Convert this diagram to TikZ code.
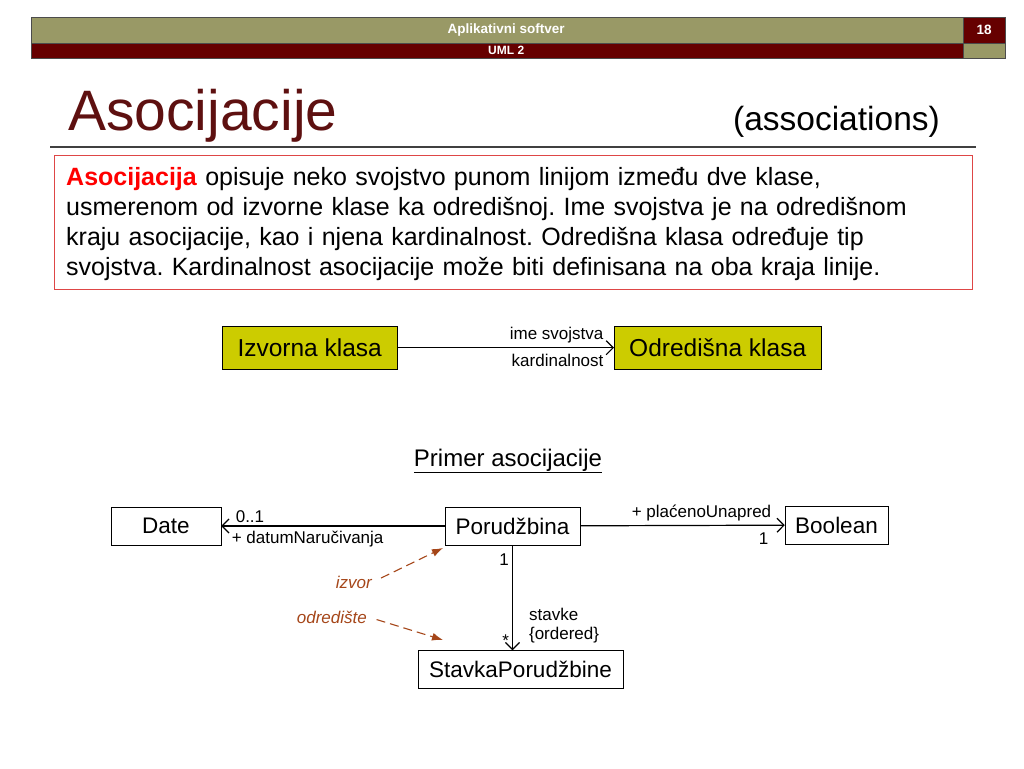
\documentclass[tikz,border=0pt]{standalone}
\usepackage{fontspec}
\setmainfont{Liberation Sans}
\usetikzlibrary{arrows.meta, positioning}
\definecolor{olivebar}{RGB}{153,153,102}
\definecolor{darkred}{RGB}{102,0,0}
\definecolor{titlered}{RGB}{94,16,16}
\definecolor{klasafill}{RGB}{204,204,0}
\definecolor{smedja}{RGB}{165,70,25}
\definecolor{okvir}{RGB}{222,70,70}

\begin{document}
\begin{tikzpicture}[x=1pt, y=-1pt,
  bar/.style={draw=black!70, inner sep=0pt, text=white,
              font=\fontsize{13.5}{15}\selectfont\bfseries},
  klasa/.style={draw, fill=klasafill, minimum height=43pt, font=\fontsize{24.5}{28}\selectfont},
  uml/.style={draw, fill=white, minimum height=38pt, font=\fontsize{22.5}{26}\selectfont},
  lbl/.style={inner sep=1pt, font=\fontsize{17}{19}\selectfont},
  note/.style={inner sep=1pt, text=smedja, font=\fontsize{17}{19}\selectfont\itshape},
  assoc/.style={-{Straight Barb[length=7pt, width=14pt]}, line width=1.2pt},
  hint/.style={-{Latex[length=11pt, width=8pt]}, smedja, line width=1.1pt,
               dash pattern=on 9pt off 5pt}]

  \useasboundingbox (0,0) rectangle (1024,768);

  % zaglavlje
  \node[bar, fill=olivebar, minimum width=932pt, minimum height=26pt, anchor=north west] (naslov) at (31,17) {\hspace*{18pt}Aplikativni softver};
  \node[bar, fill=darkred, minimum width=42pt, minimum height=26pt, anchor=north west] (broj) at (963,17) {18};
  \node[bar, fill=darkred, minimum width=932pt, minimum height=15pt, anchor=north west,
        font=\fontsize{12}{13}\selectfont\bfseries] (tema) at (31,43) {\hspace*{18pt}UML 2};
  \node[bar, fill=olivebar, minimum width=42pt, minimum height=15pt, anchor=north west] (prazno) at (963,43) {};

  \node[anchor=base west, inner sep=0pt, text=titlered, font=\fontsize{57}{60}\selectfont] (tit) at (68,130) {Asocijacije};
  \node[anchor=base east, inner sep=0pt, font=\fontsize{33.5}{36}\selectfont] (eng) at (940,130) {(associations)};
  \draw[black!75, line width=1.3pt] (50,147) -- (976,147);

  % definicija
  \node[draw=okvir, line width=1.1pt, minimum width=918pt, minimum height=134pt, anchor=north west] (okvir) at (54,155) {};
  \node[anchor=north west, inner sep=0pt, text width=900pt, align=left,
        font=\fontsize{25}{30}\selectfont\frenchspacing] (opis) at (66,167)
    {\textcolor{red}{\textbf{Asocijacija}} opisuje neko svojstvo punom linijom između dve klase,\\
     usmerenom od izvorne klase ka odredišnoj. Ime svojstva je na odredišnom\\
     kraju asocijacije, kao i njena kardinalnost. Odredišna klasa određuje tip\\
     svojstva. Kardinalnost asocijacije može biti definisana na oba kraja linije.};

  % opsti oblik
  \node[klasa, minimum width=175pt, anchor=north west] (izv) at (222,326) {Izvorna klasa};
  \node[klasa, minimum width=207pt, anchor=north west] (odr) at (614,326) {Odredišna klasa};
  \draw[assoc] (izv) -- (odr)
    node[lbl, pos=1, anchor=south east, xshift=-9pt, yshift=3pt] (ime) {ime svojstva}
    node[lbl, pos=1, anchor=north east, xshift=-9pt, yshift=-5pt] (kard) {kardinalnost};

  % primer
  \node[anchor=base, inner sep=0pt, font=\fontsize{24}{28}\selectfont] (primer) at (508,466) {\underline{Primer asocijacije}};

  \node[uml, minimum width=110pt] (date)   at (166,526) {Date};
  \node[uml, minimum width=135pt] (por)    at (512.5,526) {Porudžbina};
  \node[uml, minimum width=103pt] (bool)   at (836.5,525) {Boolean};
  \node[uml, minimum width=205pt] (stavka) at (520.5,669.5) {StavkaPorudžbine};

  \draw[assoc] (por) -- (date)
    node[lbl, pos=1, anchor=south west, xshift=13pt, yshift=2pt] (dmult) {0..1}
    node[lbl, pos=1, anchor=north west, xshift=9pt, yshift=-4pt] (dime) {+ datumNaručivanja};
  \draw[assoc] (por) -- (bool)
    node[lbl, pos=1, anchor=south east, xshift=-12pt, yshift=3pt] (bime) {+ plaćenoUnapred}
    node[lbl, pos=1, anchor=north east, xshift=-15pt, yshift=-6pt] (bmult) {1};
  \draw[assoc] (por) -- (por |- stavka.north)
    node[lbl, pos=0, anchor=north east, xshift=-2pt, yshift=-7pt] (pmult) {1}
    node[lbl, pos=1, anchor=south east, xshift=-2pt, yshift=2pt] (smult) {*}
    node[lbl, pos=1, anchor=south west, align=left, xshift=15pt, yshift=6pt] (sime) {stavke\\\{ordered\}};

  % napomene
  \node[note, anchor=base east] (izvor) at (373,588) {izvor};
  \node[note, anchor=base east] (odrediste) at (368,623) {odredište};
  \coordinate (izvorvrh) at (443,548);
  \coordinate (odrvrh)   at (443,640);
  \draw[hint, shorten <=9pt] (izvor.east) -- (izvorvrh);
  \draw[hint, shorten <=9pt] (odrediste.east) -- (odrvrh);
\end{tikzpicture}
\end{document}
